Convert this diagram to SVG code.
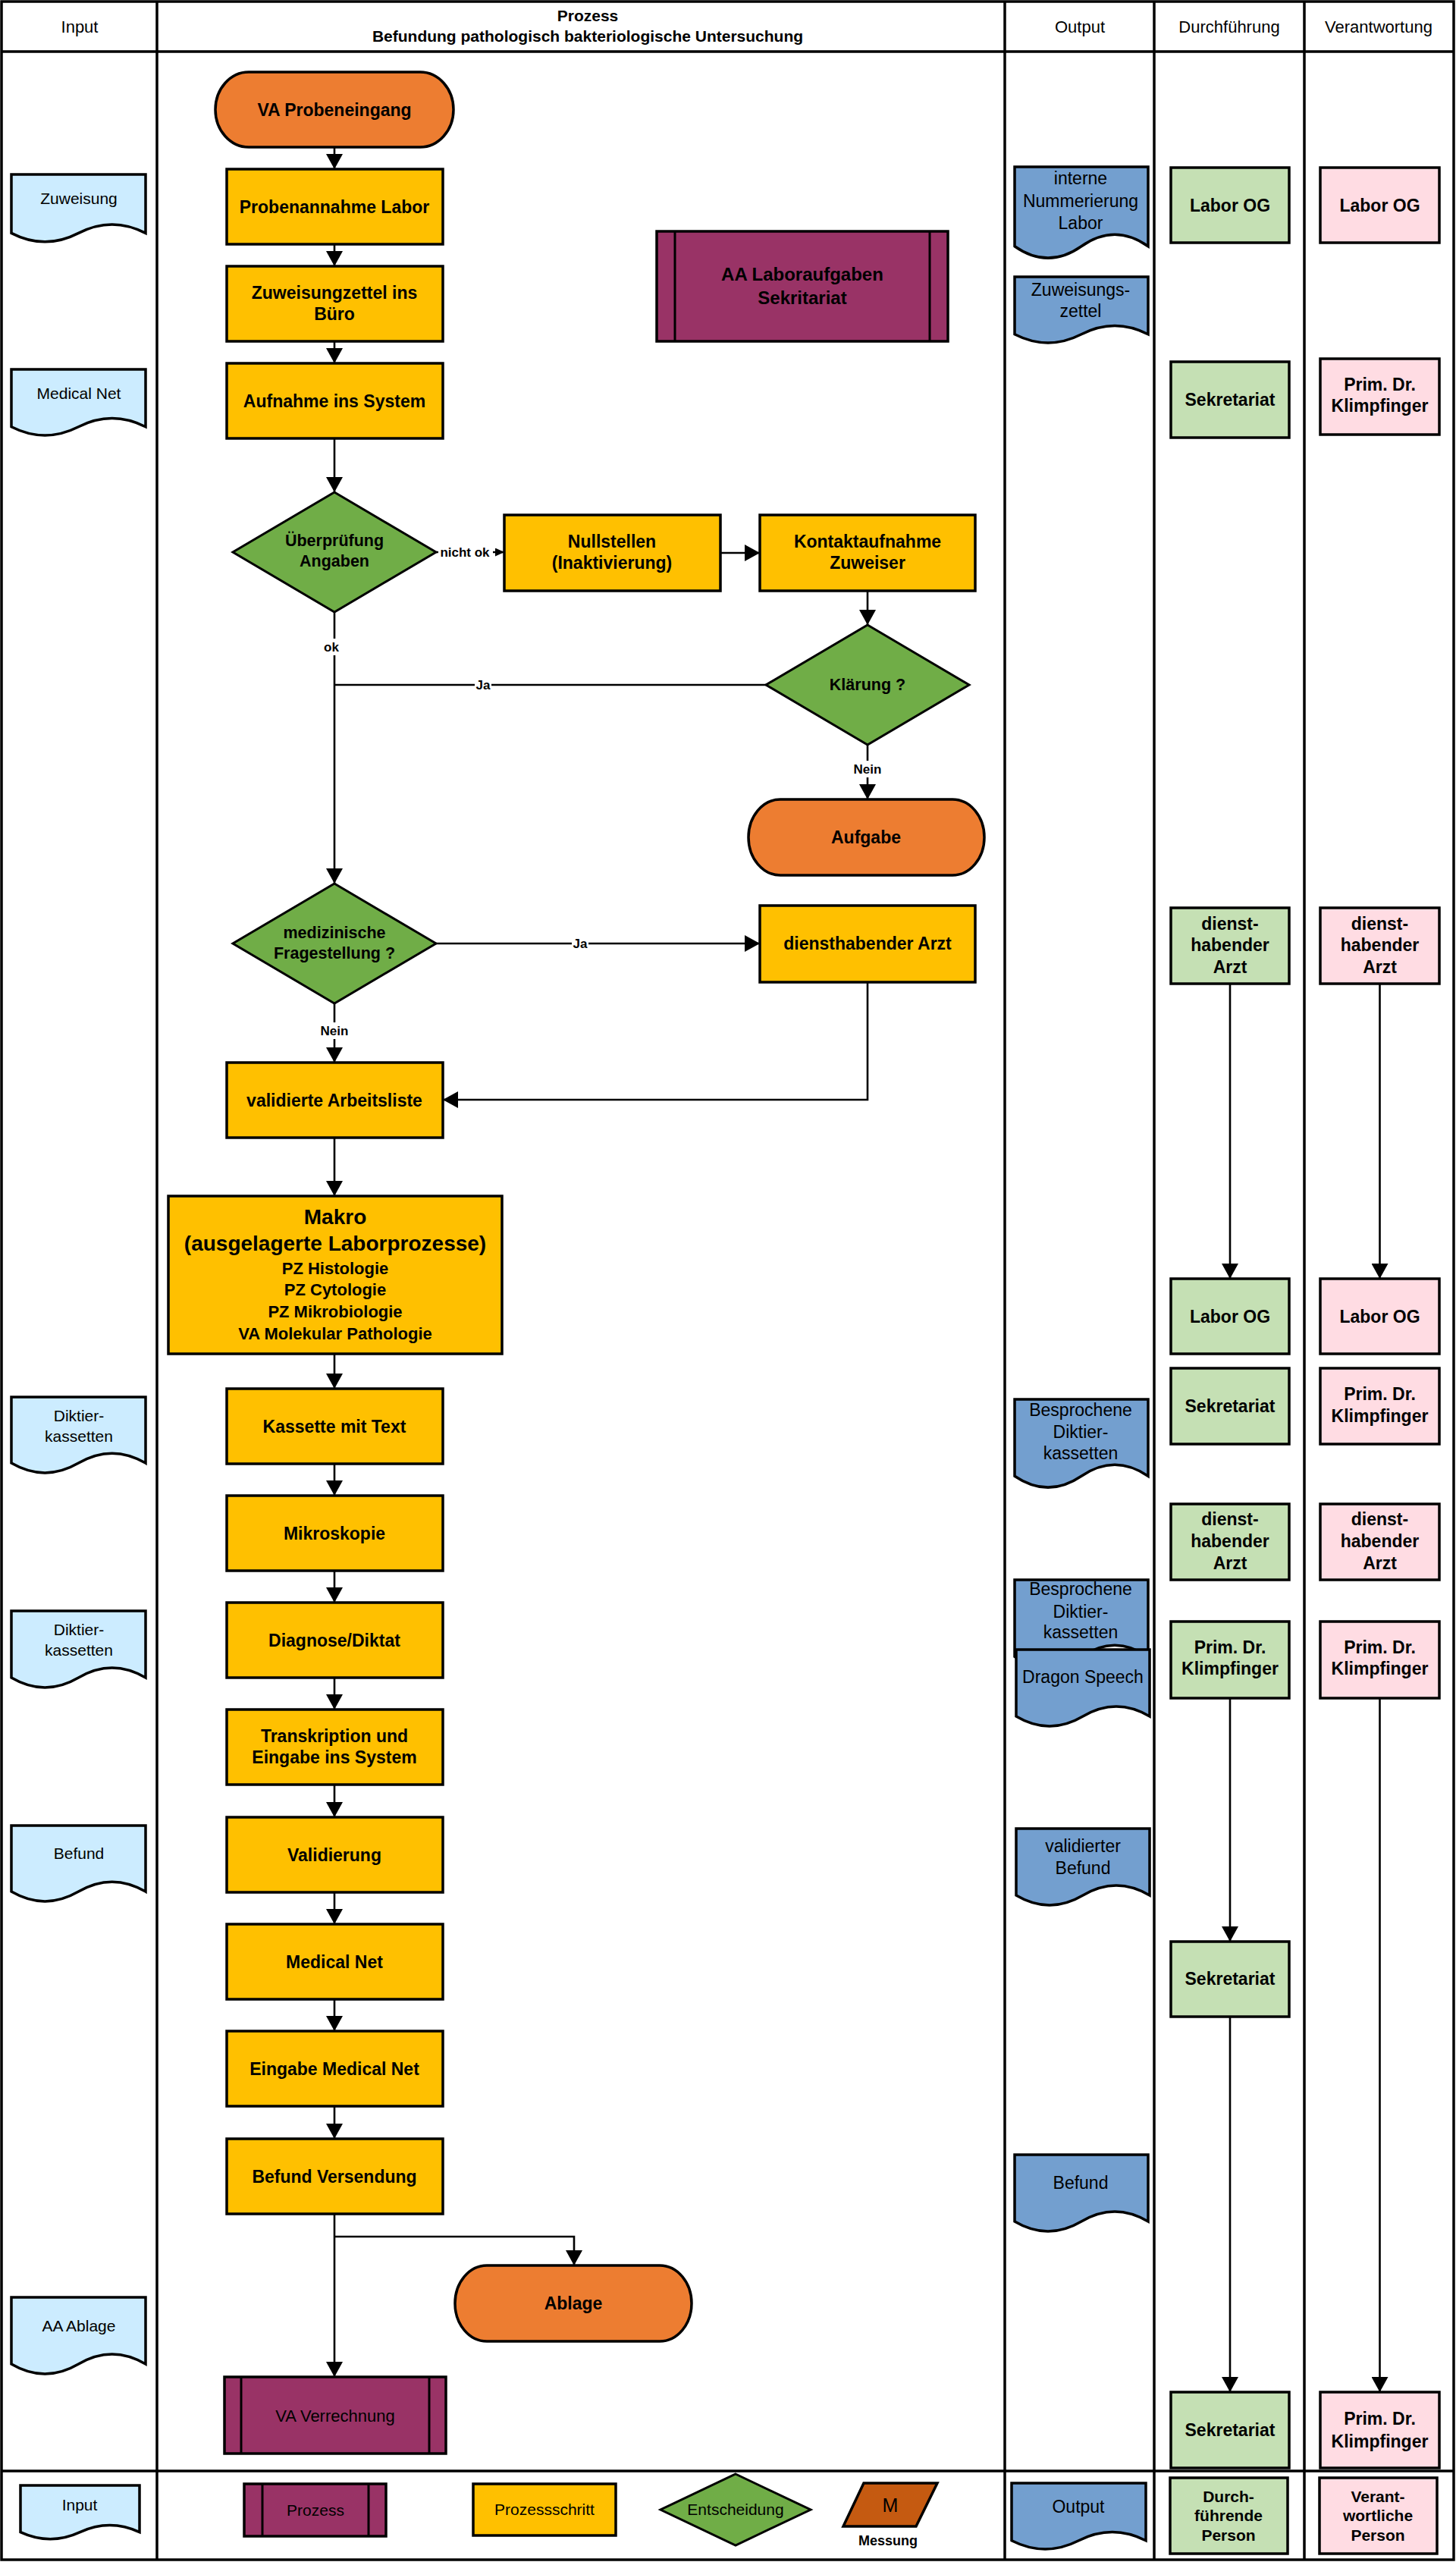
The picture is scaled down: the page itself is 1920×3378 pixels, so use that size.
<svg xmlns="http://www.w3.org/2000/svg" width="1920" height="3378" viewBox="0 0 1920 3378">
<defs>
<style>
text{font-family:"Liberation Sans",Arial,sans-serif;text-anchor:middle;fill:#000}
.lane{stroke:#000;stroke-width:3.5;fill:none}
.proc{fill:#FFC000;stroke:#000;stroke-width:3.5}
.term{fill:#ED7D31;stroke:#000;stroke-width:3.5}
.dec{fill:#70AD47;stroke:#000;stroke-width:3}
.pre{fill:#993366;stroke:#000;stroke-width:3.5}
.prl{stroke:#000;stroke-width:3}
.din{fill:#CCECFF;stroke:#000;stroke-width:3.5}
.dout{fill:#739FCF;stroke:#000;stroke-width:3.5}
.rg{fill:#C5E0B4;stroke:#000;stroke-width:3.5}
.rp{fill:#FFDCE3;stroke:#000;stroke-width:3.5}
.meas{fill:#C55A11;stroke:#000;stroke-width:3.5}
.con{stroke:#000;stroke-width:2.6;fill:none;marker-end:url(#arr)}
.conn{stroke:#000;stroke-width:2.6;fill:none}
.lbg{fill:#fff}
.tb{font-weight:bold;font-size:23px}
.td{font-weight:bold;font-size:21.5px}
.ti{font-size:21px}
.to{font-size:23px}
.th{font-size:22px}
.thb{font-weight:bold;font-size:21px}
.tl{font-weight:bold;font-size:17px}
.tr{font-size:21px}
</style>
<marker id="arr" markerUnits="userSpaceOnUse" markerWidth="20" markerHeight="22" refX="20" refY="11" orient="auto" viewBox="0 0 20 22"><path d="M0,0 L20,11 L0,22 z" fill="#000"/></marker>
<marker id="arrs" markerUnits="userSpaceOnUse" markerWidth="12" markerHeight="11" refX="12" refY="5.5" orient="auto" viewBox="0 0 12 11"><path d="M0,0 L12,5.5 L0,11 z" fill="#000"/></marker>
</defs>
<rect x="0" y="0" width="1920" height="3378" fill="#fff"/>
<g id="lanes">
<rect class="lane" x="2" y="2" width="1915" height="3373"/>
<line class="lane" x1="2" y1="68" x2="1917" y2="68"/>
<line class="lane" x1="2" y1="3258" x2="1917" y2="3258"/>
<line class="lane" x1="207" y1="2" x2="207" y2="3375"/>
<line class="lane" x1="1325" y1="2" x2="1325" y2="3375"/>
<line class="lane" x1="1522" y1="2" x2="1522" y2="3375"/>
<line class="lane" x1="1720" y1="2" x2="1720" y2="3375"/>
</g>
<g id="header">
<text class="th" x="105" y="43">Input</text>
<text class="thb" x="775" y="28">Prozess</text>
<text class="thb" x="775" y="55">Befundung pathologisch bakteriologische Untersuchung</text>
<text class="th" x="1424" y="43">Output</text>
<text class="th" x="1621" y="43">Durchführung</text>
<text class="th" x="1818" y="43">Verantwortung</text>
</g>
<g id="n-va-probeneingang"><rect class="term" x="284" y="95" width="314" height="99" rx="44" ry="49.5"/><text class="tb" x="441" y="153">VA Probeneingang</text></g>
<g id="n-probenannahme"><rect class="proc" x="299" y="223" width="285" height="99"/><text class="tb" x="441" y="281">Probenannahme Labor</text></g>
<g id="n-zuweisungzettel"><rect class="proc" x="299" y="351" width="285" height="99"/><text class="tb" x="441" y="394">Zuweisungzettel ins</text><text class="tb" x="441" y="422">Büro</text></g>
<g id="n-aufnahme"><rect class="proc" x="299" y="479" width="285" height="99"/><text class="tb" x="441" y="537">Aufnahme ins System</text></g>
<g id="n-laboraufgaben"><rect class="pre" x="866" y="305" width="384" height="145"/><line class="prl" x1="890" y1="305" x2="890" y2="450"/><line class="prl" x1="1226" y1="305" x2="1226" y2="450"/><text class="tb" style="font-size:24px" x="1058" y="370">AA Laboraufgaben</text><text class="tb" style="font-size:24px" x="1058" y="401">Sekritariat</text></g>
<g id="n-ueberpruefung"><polygon class="dec" points="441,649 575,728 441,807 307,728"/><text class="td" x="441" y="720">Überprüfung</text><text class="td" x="441" y="747">Angaben</text></g>
<g id="n-nullstellen"><rect class="proc" x="665" y="679" width="285" height="100"/><text class="tb" x="807" y="722">Nullstellen</text><text class="tb" x="807" y="750">(Inaktivierung)</text></g>
<g id="n-kontaktaufnahme"><rect class="proc" x="1002" y="679" width="284" height="100"/><text class="tb" x="1144" y="722">Kontaktaufnahme</text><text class="tb" x="1144" y="750">Zuweiser</text></g>
<g id="n-klaerung"><polygon class="dec" points="1144,824 1278,903 1144,982 1010,903"/><text class="td" x="1144" y="910">Klärung ?</text></g>
<g id="n-aufgabe"><rect class="term" x="987" y="1054" width="311" height="100" rx="42" ry="50"/><text class="tb" x="1142" y="1112">Aufgabe</text></g>
<g id="n-medizinische"><polygon class="dec" points="441,1165 575,1244 441,1323 307,1244"/><text class="td" x="441" y="1237">medizinische</text><text class="td" x="441" y="1264">Fragestellung ?</text></g>
<g id="n-diensthabender"><rect class="proc" x="1002" y="1194" width="284" height="101"/><text class="tb" x="1144" y="1252">diensthabender Arzt</text></g>
<g id="n-validierte"><rect class="proc" x="299" y="1401" width="285" height="99"/><text class="tb" x="441" y="1459">validierte Arbeitsliste</text></g>
<g id="n-makro"><rect class="proc" x="222" y="1577" width="440" height="208"/><text class="tb" style="font-size:28px" x="442" y="1614">Makro</text><text class="tb" style="font-size:28px" x="442" y="1649">(ausgelagerte Laborprozesse)</text><text class="tb" style="font-size:22px" x="442" y="1680">PZ Histologie</text><text class="tb" style="font-size:22px" x="442" y="1708">PZ Cytologie</text><text class="tb" style="font-size:22px" x="442" y="1737">PZ Mikrobiologie</text><text class="tb" style="font-size:22px" x="442" y="1766">VA Molekular Pathologie</text></g>
<g id="n-kassette"><rect class="proc" x="299" y="1831" width="285" height="99"/><text class="tb" x="441" y="1889">Kassette mit Text</text></g>
<g id="n-mikroskopie"><rect class="proc" x="299" y="1972" width="285" height="99"/><text class="tb" x="441" y="2030">Mikroskopie</text></g>
<g id="n-diagnose"><rect class="proc" x="299" y="2113" width="285" height="99"/><text class="tb" x="441" y="2171">Diagnose/Diktat</text></g>
<g id="n-transkription"><rect class="proc" x="299" y="2254" width="285" height="99"/><text class="tb" x="441" y="2297">Transkription und</text><text class="tb" x="441" y="2325">Eingabe ins System</text></g>
<g id="n-validierung"><rect class="proc" x="299" y="2396" width="285" height="99"/><text class="tb" x="441" y="2454">Validierung</text></g>
<g id="n-medicalnet"><rect class="proc" x="299" y="2537" width="285" height="99"/><text class="tb" x="441" y="2595">Medical Net</text></g>
<g id="n-eingabe"><rect class="proc" x="299" y="2678" width="285" height="99"/><text class="tb" x="441" y="2736">Eingabe Medical Net</text></g>
<g id="n-versendung"><rect class="proc" x="299" y="2820" width="285" height="99"/><text class="tb" x="441" y="2878">Befund Versendung</text></g>
<g id="n-ablage"><rect class="term" x="600" y="2987" width="312" height="100" rx="42" ry="50"/><text class="tb" x="756" y="3045">Ablage</text></g>
<g id="n-verrechnung"><rect class="pre" x="296" y="3134" width="292" height="101"/><line class="prl" x1="318" y1="3134" x2="318" y2="3235"/><line class="prl" x1="566" y1="3134" x2="566" y2="3235"/><text class="th" x="442" y="3193">VA Verrechnung</text></g>
<g id="in-zuweisung"><path class="din" d="M15,230 h177 v77.4 q-44.25,-22.9 -88.5,0 t-88.5,0 z"/><text class="ti" x="104" y="269">Zuweisung</text></g>
<g id="in-medicalnet"><path class="din" d="M15,487 h177 v75.7 q-44.25,-22.4 -88.5,0 t-88.5,0 z"/><text class="ti" x="104" y="526">Medical Net</text></g>
<g id="in-diktier1"><path class="din" d="M15,1842 h177 v87.1 q-44.25,-25.7 -88.5,0 t-88.5,0 z"/><text class="ti" x="104" y="1874">Diktier-</text><text class="ti" x="104" y="1901">kassetten</text></g>
<g id="in-diktier2"><path class="din" d="M15,2124 h177 v88 q-44.25,-26 -88.5,0 t-88.5,0 z"/><text class="ti" x="104" y="2156">Diktier-</text><text class="ti" x="104" y="2183">kassetten</text></g>
<g id="in-befund"><path class="din" d="M15,2407 h177 v87.1 q-44.25,-25.7 -88.5,0 t-88.5,0 z"/><text class="ti" x="104" y="2451">Befund</text></g>
<g id="in-ablage"><path class="din" d="M15,3029 h177 v88 q-44.25,-26 -88.5,0 t-88.5,0 z"/><text class="ti" x="104" y="3074">AA Ablage</text></g>
<g id="out-nummerierung"><path class="dout" d="M1338,220 h176 v104.7 q-44,-30.9 -88,0 t-88,0 z"/><text class="to" x="1425" y="243">interne</text><text class="to" x="1425" y="273">Nummerierung</text><text class="to" x="1425" y="302">Labor</text></g>
<g id="out-zuweisungszettel"><path class="dout" d="M1338,365 h176 v75.7 q-44,-22.4 -88,0 t-88,0 z"/><text class="to" x="1425" y="390">Zuweisungs-</text><text class="to" x="1425" y="418">zettel</text></g>
<g id="out-besprochene1"><path class="dout" d="M1338,1845 h176 v101.2 q-44,-29.9 -88,0 t-88,0 z"/><text class="to" x="1425" y="1867">Besprochene</text><text class="to" x="1425" y="1896">Diktier-</text><text class="to" x="1425" y="1924">kassetten</text></g>
<g id="out-besprochene2"><path class="dout" d="M1338,2083 h176 v101.2 q-44,-29.9 -88,0 t-88,0 z"/><text class="to" x="1425" y="2103">Besprochene</text><text class="to" x="1425" y="2133">Diktier-</text><text class="to" x="1425" y="2160">kassetten</text></g>
<g id="out-dragon"><path class="dout" d="M1340,2175 h176 v88 q-44,-26 -88,0 t-88,0 z"/><text class="to" x="1428" y="2219">Dragon Speech</text></g>
<g id="out-validierter"><path class="dout" d="M1340,2411 h176 v88 q-44,-26 -88,0 t-88,0 z"/><text class="to" x="1428" y="2442">validierter</text><text class="to" x="1428" y="2471">Befund</text></g>
<g id="out-befund"><path class="dout" d="M1338,2841 h176 v88 q-44,-26 -88,0 t-88,0 z"/><text class="to" x="1425" y="2886">Befund</text></g>
<g id="d-labor1"><rect class="rg" x="1544" y="221" width="156" height="99"/><text class="tb" x="1622" y="279">Labor OG</text></g>
<g id="v-labor1"><rect class="rp" x="1741" y="221" width="157" height="99"/><text class="tb" x="1819.5" y="279">Labor OG</text></g>
<g id="d-sekretariat1"><rect class="rg" x="1544" y="477" width="156" height="100"/><text class="tb" x="1622" y="535">Sekretariat</text></g>
<g id="v-prim1"><rect class="rp" x="1741" y="473" width="157" height="100"/><text class="tb" x="1819.5" y="515">Prim. Dr.</text><text class="tb" x="1819.5" y="543">Klimpfinger</text></g>
<g id="d-arzt1"><rect class="rg" x="1544" y="1197" width="156" height="100"/><text class="tb" x="1622" y="1226">dienst-</text><text class="tb" x="1622" y="1254">habender</text><text class="tb" x="1622" y="1283">Arzt</text></g>
<g id="v-arzt1"><rect class="rp" x="1741" y="1197" width="157" height="100"/><text class="tb" x="1819.5" y="1226">dienst-</text><text class="tb" x="1819.5" y="1254">habender</text><text class="tb" x="1819.5" y="1283">Arzt</text></g>
<g id="d-labor2"><rect class="rg" x="1544" y="1686" width="156" height="99"/><text class="tb" x="1622" y="1744">Labor OG</text></g>
<g id="v-labor2"><rect class="rp" x="1741" y="1686" width="157" height="99"/><text class="tb" x="1819.5" y="1744">Labor OG</text></g>
<g id="d-sekretariat2"><rect class="rg" x="1544" y="1804" width="156" height="100"/><text class="tb" x="1622" y="1862">Sekretariat</text></g>
<g id="v-prim2"><rect class="rp" x="1741" y="1804" width="157" height="100"/><text class="tb" x="1819.5" y="1846">Prim. Dr.</text><text class="tb" x="1819.5" y="1875">Klimpfinger</text></g>
<g id="d-arzt2"><rect class="rg" x="1544" y="1983" width="156" height="100"/><text class="tb" x="1622" y="2011">dienst-</text><text class="tb" x="1622" y="2040">habender</text><text class="tb" x="1622" y="2069">Arzt</text></g>
<g id="v-arzt2"><rect class="rp" x="1741" y="1983" width="157" height="100"/><text class="tb" x="1819.5" y="2011">dienst-</text><text class="tb" x="1819.5" y="2040">habender</text><text class="tb" x="1819.5" y="2069">Arzt</text></g>
<g id="d-prim3"><rect class="rg" x="1544" y="2138" width="156" height="101"/><text class="tb" x="1622" y="2180">Prim. Dr.</text><text class="tb" x="1622" y="2208">Klimpfinger</text></g>
<g id="v-prim3"><rect class="rp" x="1741" y="2138" width="157" height="101"/><text class="tb" x="1819.5" y="2180">Prim. Dr.</text><text class="tb" x="1819.5" y="2208">Klimpfinger</text></g>
<g id="d-sekretariat3"><rect class="rg" x="1544" y="2560" width="156" height="99"/><text class="tb" x="1622" y="2617">Sekretariat</text></g>
<g id="d-sekretariat4"><rect class="rg" x="1544" y="3154" width="156" height="100"/><text class="tb" x="1622" y="3212">Sekretariat</text></g>
<g id="v-prim4"><rect class="rp" x="1741" y="3154" width="157" height="100"/><text class="tb" x="1819.5" y="3197">Prim. Dr.</text><text class="tb" x="1819.5" y="3227">Klimpfinger</text></g>
<g id="legend">
<g id="lg-input"><path class="din" d="M27,3277 h157 v61.6 q-39.25,-18.2 -78.5,0 t-78.5,0 z"/><text class="tr" x="105" y="3310">Input</text></g>
<g id="lg-prozess"><rect class="pre" x="322" y="3275" width="187" height="69"/><line class="prl" x1="346" y1="3275" x2="346" y2="3344"/><line class="prl" x1="486" y1="3275" x2="486" y2="3344"/><text class="tr" x="416" y="3317">Prozess</text></g>
<g id="lg-schritt"><rect class="proc" x="624" y="3275" width="188" height="68"/><text class="tr" x="718" y="3316">Prozessschritt</text></g>
<g id="lg-entscheidung"><polygon class="dec" points="970,3262 1069,3309 970,3356 871,3309"/><text class="tr" x="970" y="3316">Entscheidung</text></g>
<g id="lg-messung"><polygon class="meas" points="1139,3274 1236,3274 1208,3331 1112,3331"/><text style="font-size:25px" x="1174" y="3312">M</text><text style="font-weight:bold;font-size:18px" x="1171" y="3356">Messung</text></g>
<g id="lg-output"><path class="dout" d="M1334,3274 h177 v75.7 q-44.25,-22.4 -88.5,0 t-88.5,0 z"/><text class="to" x="1422" y="3313">Output</text></g>
<g id="lg-durch"><rect class="rg" x="1543" y="3267" width="155" height="100"/><text class="thb" x="1620" y="3299">Durch-</text><text class="thb" x="1620" y="3324">führende</text><text class="thb" x="1620" y="3350">Person</text></g>
<g id="lg-verant"><rect class="rp" x="1740" y="3267" width="155" height="100"/><text class="thb" x="1817" y="3299">Verant-</text><text class="thb" x="1817" y="3324">wortliche</text><text class="thb" x="1817" y="3350">Person</text></g>
</g>
<g id="connectors">
<path class="con" d="M441,194 V223"/>
<path class="con" d="M441,322 V351"/>
<path class="con" d="M441,450 V479"/>
<path class="con" d="M441,578 V649"/>
<path class="conn" d="M575,728 H665" style="marker-end:url(#arrs)"/>
<path class="con" d="M950,729 H1002"/>
<path class="con" d="M1144,779 V824"/>
<path class="conn" d="M1010,903 H441"/>
<path class="con" d="M441,807 V1165"/>
<path class="con" d="M1144,982 V1054"/>
<path class="con" d="M575,1244 H1002"/>
<path class="con" d="M441,1323 V1401"/>
<path class="con" d="M1144,1295 V1450 H584"/>
<path class="con" d="M441,1500 V1577"/>
<path class="con" d="M441,1785 V1831"/>
<path class="con" d="M441,1930 V1972"/>
<path class="con" d="M441,2071 V2113"/>
<path class="con" d="M441,2212 V2254"/>
<path class="con" d="M441,2353 V2396"/>
<path class="con" d="M441,2495 V2537"/>
<path class="con" d="M441,2636 V2678"/>
<path class="con" d="M441,2777 V2820"/>
<path class="con" d="M441,2919 V3134"/>
<path class="con" d="M441,2949 H757 V2987"/>
<path class="con" d="M1622,1297 V1686"/>
<path class="con" d="M1819.5,1297 V1686"/>
<path class="con" d="M1622,2239 V2560"/>
<path class="con" d="M1622,2659 V3154"/>
<path class="con" d="M1819.5,2239 V3154"/>
<rect class="lbg" x="578" y="718" width="72" height="21"/><text class="tl" x="613" y="734">nicht ok</text>
<rect class="lbg" x="425" y="842" width="24" height="22"/><text class="tl" x="437" y="859">ok</text>
<rect class="lbg" x="626" y="892" width="22" height="22"/><text class="tl" x="637" y="909">Ja</text>
<rect class="lbg" x="1121" y="1003" width="46" height="22"/><text class="tl" x="1144" y="1020">Nein</text>
<rect class="lbg" x="754" y="1233" width="22" height="22"/><text class="tl" x="765" y="1250">Ja</text>
<rect class="lbg" x="418" y="1348" width="46" height="22"/><text class="tl" x="441" y="1365">Nein</text>
</g>
</svg>
